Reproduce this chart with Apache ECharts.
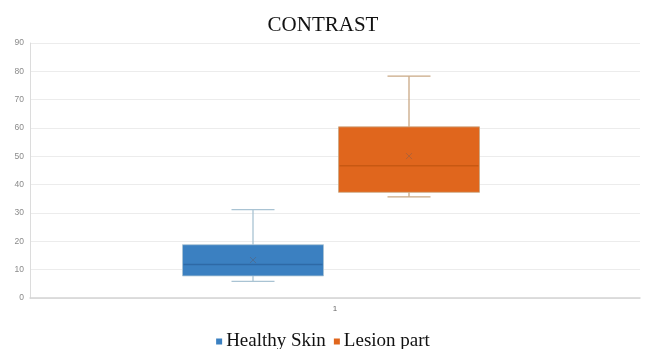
<!DOCTYPE html>
<html>
<head>
<meta charset="utf-8">
<script src="https://cdn.jsdelivr.net/npm/echarts@6/dist/echarts.min.js"></script>
<style>
html,body{margin:0;padding:0;background:#fff;}
#chart{width:646px;height:349px;}
</style>
</head>
<body>
<div id="chart"></div>
<script>
// ---- data ----
const categories = ['1'];
const seriesNames = ['Healthy Skin', 'Lesion part'];
// [min, Q1, median, Q3, max]
const healthySkin = [5.9, 7.8, 11.8, 18.8, 31.2];
const lesionPart = [35.7, 37.3, 46.7, 60.4, 78.3];
const meanValues = [13.4, 50.1];
const yMin = 0, yMax = 90, yStep = 10;

// ---- styles / layout ----
const fills = ['#3b80c1', '#e0661d'];
const whiskerColors = ['#a9c3d3', '#c9a884'];
const medianColors = ['#2e69a6', '#c85812'];
const meanColors = ['#4b6f98', '#b36236'];
const boxW = 141;
const capW = 43;
const groupOffsets = [-82, 74];

const chart = echarts.init(document.getElementById('chart'), null, {renderer: 'canvas'});

const boxData = [healthySkin, lesionPart];

function makeRender(i) {
  return function (params, api) {
    const cat = api.value(0);
    const cx = api.coord([cat, 0])[0] + groupOffsets[i];
    const Y = v => api.coord([cat, v])[1];
    const mn = Y(api.value(1)), q1 = Y(api.value(2)), md = Y(api.value(3)),
          q3 = Y(api.value(4)), mx = Y(api.value(5)), mean = Y(api.value(6));
    const ws = {stroke: whiskerColors[i], lineWidth: 1.3};
    const m = 3;
    return {
      type: 'group',
      children: [
        {type: 'line', shape: {x1: cx, y1: mx, x2: cx, y2: q3}, style: ws},
        {type: 'line', shape: {x1: cx - capW / 2, y1: mx, x2: cx + capW / 2, y2: mx}, style: ws},
        {type: 'line', shape: {x1: cx, y1: q1, x2: cx, y2: mn}, style: ws},
        {type: 'line', shape: {x1: cx - capW / 2, y1: mn, x2: cx + capW / 2, y2: mn}, style: ws},
        {type: 'rect', shape: {x: cx - boxW / 2, y: q3, width: boxW, height: q1 - q3},
          style: {fill: fills[i], stroke: whiskerColors[i], lineWidth: 0.8}},
        {type: 'line', shape: {x1: cx - boxW / 2 + 1, y1: md, x2: cx + boxW / 2 - 1, y2: md},
          style: {stroke: medianColors[i], lineWidth: 1.5}},
        {type: 'line', shape: {x1: cx - m, y1: mean - m, x2: cx + m, y2: mean + m},
          style: {stroke: meanColors[i], lineWidth: 1}},
        {type: 'line', shape: {x1: cx - m, y1: mean + m, x2: cx + m, y2: mean - m},
          style: {stroke: meanColors[i], lineWidth: 1}}
      ]
    };
  };
}

const series = boxData.map((d, i) => ({
  name: seriesNames[i],
  type: 'custom',
  renderItem: makeRender(i),
  dimensions: ['cat', 'min', 'q1', 'median', 'q3', 'max', 'mean'],
  encode: {x: 0, y: [1, 2, 3, 4, 5, 6]},
  data: [[categories[0], d[0], d[1], d[2], d[3], d[4], meanValues[i]]],
  itemStyle: {color: fills[i]},
  emphasis: {disabled: true},
  silent: true,
  z: 2
}));

chart.setOption({
  animation: false,
  backgroundColor: '#ffffff',
  title: {
    text: 'CONTRAST',
    left: 'center',
    top: 10,
    textStyle: {fontFamily: 'Liberation Serif', fontSize: 21, fontWeight: 'normal', color: '#111'}
  },
  legend: {
    data: seriesNames,
    left: 'center',
    top: 327,
    icon: 'rect',
    itemWidth: 6,
    itemHeight: 6,
    itemGap: 8,
    itemStyle: {borderWidth: 0},
    textStyle: {fontFamily: 'Liberation Serif', fontSize: 19, color: '#111', padding: [0, 0, 0, -1]}
  },
  grid: {left: 30, right: 6, top: 43, bottom: 51},
  xAxis: {
    type: 'category', data: categories,
    axisLine: {show: true, lineStyle: {color: '#d4d4d4', width: 1.5}},
    axisTick: {show: false},
    axisLabel: {color: '#666', fontSize: 8, fontFamily: 'Liberation Sans', margin: 7},
    splitLine: {show: false}
  },
  yAxis: {
    type: 'value', min: yMin, max: yMax, interval: yStep,
    axisLine: {show: true, lineStyle: {color: '#dcdcdc', width: 1}},
    axisTick: {show: false},
    axisLabel: {color: '#8a8a8a', fontSize: 8.5, fontFamily: 'Liberation Sans', margin: 6},
    splitLine: {show: true, lineStyle: {color: '#ececec', width: 1}}
  },
  series: series
});
</script>
</body>
</html>
